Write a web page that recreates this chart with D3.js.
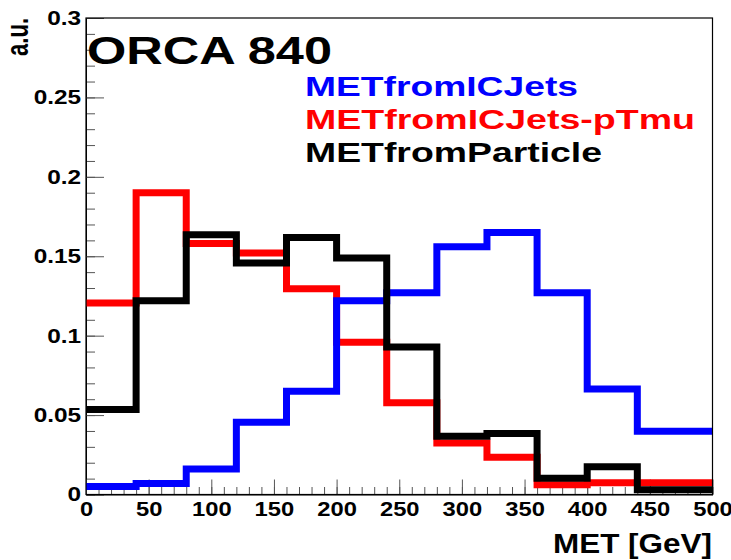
<!DOCTYPE html>
<html lang="en">
<head>
<meta charset="UTF-8">
<title>MET</title>
<style>
    body { margin: 0; background: #fff; }
    svg { display: block; }
    text { font-family: 'Liberation Sans', Arial, Helvetica, sans-serif; font-weight: bold; }
</style>
</head>
<body>
<script src="https://d3js.org/d3.v7.min.js"></script>
<script>
    const W = 731
    const H = 560

    // histogram bins: 40 GeV wide, the last one runs past the axis end
    const binEdges = [0, 40, 80, 120, 160, 200, 240, 280, 320, 360, 400, 440, 480, 520]
    const metICJets = [0.005, 0.007, 0.016, 0.0455, 0.065, 0.122, 0.127, 0.156, 0.165, 0.127, 0.0665, 0.0398, 0.0398]
    const metICJetsMu = [0.1206, 0.190, 0.158, 0.152, 0.1296, 0.0958, 0.0577, 0.0325, 0.0235, 0.0061, 0.0074, 0.0074, 0.0074]
    const metParticle = [0.0535, 0.122, 0.1635, 0.1457, 0.1618, 0.1489, 0.0929, 0.0367, 0.0384, 0.0103, 0.0174, 0.003, 0.003]

    const xTicks = [0, 50, 100, 150, 200, 250, 300, 350, 400, 450, 500]
    const yTicks = [0, 0.05, 0.1, 0.15, 0.2, 0.25, 0.3]
    const legendNames = ['METfromICJets', 'METfromICJets-pTmu', 'METfromParticle']

    const plotL = 86, plotR = 712.5, plotT = 18, plotB = 494.5

    const x = d3.scaleLinear().domain([0, 500]).range([plotL, plotR])
    const y = d3.scaleLinear().domain([0, 0.3]).range([plotB, plotT])

    const svg = d3.select('body')
        .append('svg')
        .attr('width', W)
        .attr('height', H)

    svg.append('defs').append('clipPath')
        .attr('id', 'plot')
        .append('rect')
        .attr('x', plotL)
        .attr('y', plotT)
        .attr('width', plotR - plotL)
        .attr('height', plotB - plotT)

    // minor ticks (drawn first, the histograms sit on top)
    svg.append('g')
        .attr('transform', `translate(${plotL},0)`)
        .call(d3.axisLeft(y).ticks(30).tickSize(-9).tickSizeOuter(0).tickFormat(''))
        .call(g => g.select('.domain').remove())
    svg.append('g')
        .attr('transform', `translate(0,${plotB})`)
        .call(d3.axisBottom(x).ticks(50).tickSize(-7.5).tickSizeOuter(0).tickFormat(''))
        .call(g => g.select('.domain').remove())

    const yAxis = svg.append('g')
        .attr('transform', `translate(${plotL},0)`)
        .call(d3.axisLeft(y).tickValues(yTicks).tickSize(-18).tickSizeOuter(0).tickPadding(4).tickFormat(d => String(d)))
    const xAxis = svg.append('g')
        .attr('transform', `translate(0,${plotB})`)
        .call(d3.axisBottom(x).tickValues(xTicks).tickSize(-15).tickSizeOuter(0).tickPadding(8).tickFormat(d => String(d)))

    svg.selectAll('.tick line').attr('stroke', '#555')
    yAxis.attr('font-family', null).attr('font-size', 20)
    xAxis.attr('font-family', null).attr('font-size', 19.5)
    svg.selectAll('.tick text')
        .attr('fill', '#000')
        .attr('transform', 'scale(1.22,1)')

    // step outline like ROOT's hist
    const line = d3.line()
        .x(d => x(d[0]))
        .y(d => y(d[1]))
        .curve(d3.curveStepAfter)

    function steps(vals) {
        const pts = vals.map((v, i) => [binEdges[i], v])
        pts.push([binEdges[vals.length], vals[vals.length - 1]])
        return pts
    }

    const series = [
        { vals: metICJetsMu, color: '#ff0000' },
        { vals: metICJets, color: '#0000ff' },
        { vals: metParticle, color: '#000000' }
    ]

    svg.append('g')
        .attr('clip-path', 'url(#plot)')
        .selectAll('path')
        .data(series)
        .enter()
        .append('path')
        .attr('d', d => line(steps(d.vals)))
        .attr('fill', 'none')
        .attr('stroke', d => d.color)
        .attr('stroke-width', 7)
        .attr('stroke-linejoin', 'miter')

    // frame
    svg.append('rect')
        .attr('x', plotL)
        .attr('y', plotT)
        .attr('width', plotR - plotL)
        .attr('height', plotB - plotT)
        .attr('fill', 'none')
        .attr('stroke', '#000')
        .attr('stroke-width', 1.2)

    svg.append('text')
        .attr('x', 87)
        .attr('y', 64)
        .attr('font-size', 38.5)
        .attr('textLength', 245)
        .attr('lengthAdjust', 'spacingAndGlyphs')
        .text('ORCA 840')

    const legendLens = [273, 390, 297]
    svg.append('g')
        .selectAll('text')
        .data(legendNames)
        .enter()
        .append('text')
        .attr('x', 305)
        .attr('y', (d, i) => 96 + i * 33)
        .attr('font-size', 28)
        .attr('fill', (d, i) => ['#0000ff', '#ff0000', '#000000'][i])
        .attr('textLength', (d, i) => legendLens[i])
        .attr('lengthAdjust', 'spacingAndGlyphs')
        .text(d => d)

    svg.append('text')
        .attr('x', 553)
        .attr('y', 553)
        .attr('font-size', 28)
        .attr('textLength', 159)
        .attr('lengthAdjust', 'spacingAndGlyphs')
        .text('MET [GeV]')

    svg.append('text')
        .attr('transform', 'translate(28,18) scale(1.4,1) rotate(-90)')
        .attr('text-anchor', 'end')
        .attr('font-size', 22)
        .text('a.u.')
</script>
</body>
</html>
